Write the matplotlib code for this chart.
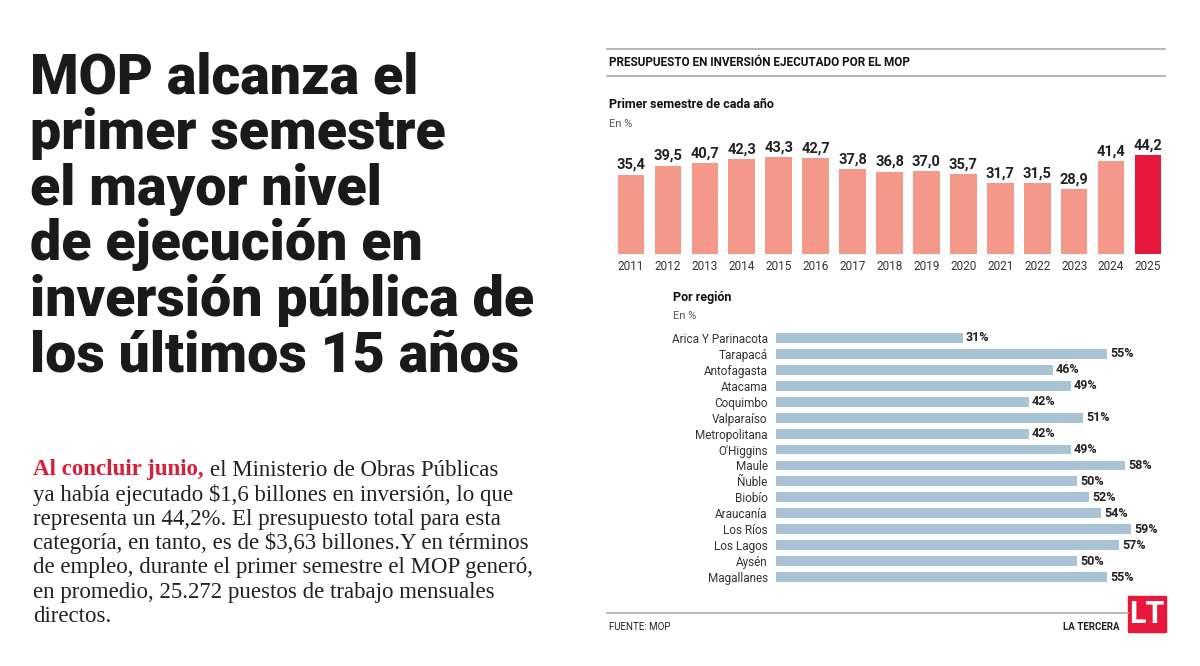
import matplotlib.pyplot as plt
from matplotlib.patches import Rectangle

plt.rcParams['font.family'] = ['Roboto', 'DejaVu Sans']

# datos
years = ['2011', '2012', '2013', '2014', '2015', '2016', '2017', '2018',
         '2019', '2020', '2021', '2022', '2023', '2024', '2025']
semestre = [35.4, 39.5, 40.7, 42.3, 43.3, 42.7, 37.8, 36.8, 37.0, 35.7,
            31.7, 31.5, 28.9, 41.4, 44.2]
regiones = ['Arica Y Parinacota', 'Tarapacá', 'Antofagasta', 'Atacama', 'Coquimbo',
            'Valparaíso', 'Metropolitana', "O'Higgins", 'Maule', 'Ñuble', 'Biobío',
            'Araucanía', 'Los Ríos', 'Los Lagos', 'Aysén', 'Magallanes']
region_pct = [31, 55, 46, 49, 42, 51, 42, 49, 58, 50, 52, 54, 59, 57, 50, 55]

W, H = 1200, 666
fig = plt.figure(figsize=(12, 6.66), dpi=100)
fig.patch.set_facecolor('white')


def px(x, y):
    return x / W, 1 - y / H


def ax_px(x0, y0, x1, y1):
    return fig.add_axes([x0 / W, 1 - y1 / H, (x1 - x0) / W, (y1 - y0) / H])


# titular
titulo = ['MOP alcanza el', 'primer semestre', 'el mayor nivel',
          'de ejecución en', 'inversión pública de', 'los últimos 15 años']
for i, linea in enumerate(titulo):
    fig.text(*px(30, 78 + i * 55.5), linea, fontsize=40, fontweight='black',
             color='#1a1a1a', va='center', ha='left')

# cuerpo
cuerpo = ['el Ministerio de Obras Públicas',
          'ya había ejecutado $1,6 billones en inversión, lo que',
          'representa un 44,2%. El presupuesto total para esta',
          'categoría, en tanto, es de $3,63 billones.Y en términos',
          'de empleo, durante el primer semestre el MOP generó,',
          'en promedio, 25.272 puestos de trabajo mensuales',
          'directos.']
rojo = fig.text(*px(33, 470), 'Al concluir junio,', fontsize=16.5, fontweight='bold',
                color='#d81e3a', family='Liberation Serif', va='center')
fig.canvas.draw()
bb = rojo.get_window_extent()
fig.text(bb.x1 / W + 6 / W, 1 - 470 / H, cuerpo[0], fontsize=16.5, color='#222222',
         family='Liberation Serif', va='center')
for i, linea in enumerate(cuerpo[1:]):
    fig.text(*px(33, 494.5 + i * 24.5), linea, fontsize=16.5, color='#222222',
             family='Liberation Serif', va='center')

# lineas y encabezados
for y in (49, 76):
    fig.add_artist(plt.Line2D([607 / W, 1165 / W], [1 - y / H] * 2, color='#aaaaaa', lw=1.2))
fig.add_artist(plt.Line2D([607 / W, 1128 / W], [1 - 613 / H] * 2, color='#aaaaaa', lw=1.2))
fig.text(*px(609, 62), 'PRESUPUESTO EN INVERSIÓN EJECUTADO POR EL MOP', fontsize=8.5,
         fontweight='bold', va='center', color='#111111')
fig.text(*px(609, 105), 'Primer semestre de cada año', fontsize=9, fontweight='bold',
         va='center', color='#111111')
fig.text(*px(609, 124), 'En %', fontsize=8, va='center', color='#555555')

# barras anuales
ax1 = ax_px(612.5, 140, 1166.5, 254)
colores = ['#f4998a'] * (len(years) - 1) + ['#e8173c']
x = range(len(years))
ax1.bar(x, semestre, width=0.72, color=colores)
for i, v in enumerate(semestre):
    ax1.text(i, v + 1.2, f'{v:.1f}'.replace('.', ','), ha='center', va='bottom',
             fontsize=10.5, fontweight='bold', color='#222222')
ax1.set_xlim(-0.5, len(years) - 0.5)
ax1.set_ylim(0, 50.9)
ax1.set_xticks(list(x))
ax1.set_xticklabels(years, fontsize=8.5, color='#333333')
ax1.tick_params(axis='x', length=0, pad=4)
ax1.set_yticks([])
for s in ax1.spines.values():
    s.set_visible(False)

# barras por region
fig.text(*px(673, 297), 'Por región', fontsize=9, fontweight='bold', va='center', color='#111111')
fig.text(*px(673, 316), 'En %', fontsize=8, va='center', color='#555555')
ax2 = ax_px(776, 330, 1166, 585)
y = range(len(regiones))
ax2.barh(y, region_pct, height=0.62, color='#a8c4d4')
for i, v in enumerate(region_pct):
    ax2.text(v + 0.5, i, f'{v}%', va='center', ha='left', fontsize=9,
             fontweight='bold', color='#222222')
ax2.set_ylim(len(regiones) - 0.5, -0.5)
ax2.set_xlim(0, 64.8)
ax2.set_yticks(list(y))
ax2.set_yticklabels(regiones, fontsize=8.5, color='#333333')
ax2.tick_params(axis='y', length=0, pad=6)
ax2.set_xticks([])
for s in ax2.spines.values():
    s.set_visible(False)

# pie
fig.text(*px(609, 627), 'FUENTE: MOP', fontsize=7, va='center', color='#222222')
fig.text(*px(1120, 627), 'LA TERCERA', fontsize=7, fontweight='bold', va='center',
         ha='right', color='#222222')
fig.add_artist(Rectangle((1128 / W, 1 - 632 / H), 38 / W, 36 / H, color='#e8173c',
                         transform=fig.transFigure))
fig.text(*px(1147, 614), 'LT', fontsize=22, fontweight='bold', color='white',
         ha='center', va='center')

fig.savefig('out.png', dpi=100)
